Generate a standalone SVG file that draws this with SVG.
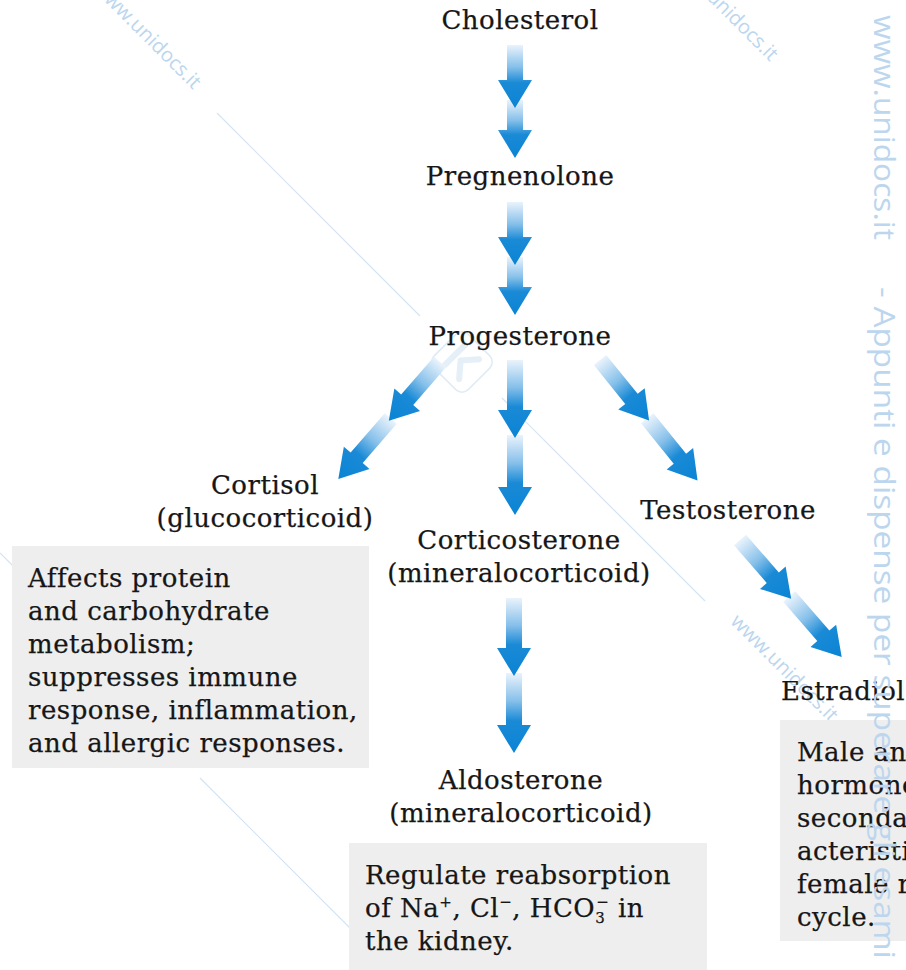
<svg xmlns="http://www.w3.org/2000/svg" width="906" height="970" viewBox="0 0 906 970">
<defs>
<linearGradient id="ag" x1="0" y1="0" x2="0" y2="1">
<stop offset="0" stop-color="#eaf3fc"/>
<stop offset="0.35" stop-color="#86c0ea"/>
<stop offset="0.6" stop-color="#1a8ad6"/>
<stop offset="1" stop-color="#0a84d4"/>
</linearGradient>
<path id="s1" d="M-8,0 H8 V35 H17 L0,63 L-17,35 H-8 Z"/>
<path id="s2" d="M-8,55 H8 V85 H17 L0,113 L-17,85 H-8 Z"/>
<path id="l1" d="M-8,0 H8 V50 H17 L0,78 L-17,50 H-8 Z"/>
<path id="l2" d="M-8,75 H8 V127 H17 L0,155 L-17,127 H-8 Z"/>
</defs>
<style>
.lbl{font-family:"DejaVu Serif","Liberation Serif",serif;font-size:26px;letter-spacing:0.5px;fill:#161616;stroke:#161616;stroke-width:0.25;text-anchor:middle}
.txt{font-family:"DejaVu Serif","Liberation Serif",serif;font-size:26px;letter-spacing:0.5px;fill:#161616;stroke:#161616;stroke-width:0.25}
.box{fill:#eeeeee}
.arr use{fill:url(#ag)}
.wm{font-family:"Open Sans","DejaVu Sans",sans-serif;fill:#bcd6ee}
.wl{stroke:#d3e4f3;stroke-width:1.2;fill:none}
</style>
<rect width="906" height="970" fill="#ffffff"/>

<g id="watermark-back">
<line class="wl" x1="217" y1="113" x2="420" y2="316"/>
<line class="wl" x1="502" y1="398" x2="705" y2="601"/>
<line class="wl" x1="200" y1="778" x2="388" y2="966"/>
<line class="wl" x1="0" y1="553" x2="40" y2="593"/>
<g transform="translate(462,362) rotate(45)" opacity="0.6">
<rect x="-24" y="-24" width="48" height="48" rx="9" fill="none" stroke="#c9def2" stroke-width="1.5"/>
<path d="M-10,-14 V14 M-2,0 L10,-14 M-2,0 L10,14" stroke="#d3e5f5" stroke-width="6" fill="none" stroke-linecap="round"/>
</g>
<text class="wm" font-size="20" text-anchor="end" transform="translate(193,90) rotate(45)">www.unidocs.it</text>
<text class="wm" font-size="20" text-anchor="end" transform="translate(770,62) rotate(45)">www.unidocs.it</text>
<text class="wm" font-size="20" text-anchor="end" transform="translate(170,735) rotate(45)">www.unidocs.it</text>
<text class="wm" font-size="20" text-anchor="end" transform="translate(830,723) rotate(45)">www.unidocs.it</text>
</g>

<g id="connectors" class="arr">
<g transform="translate(515,45)"><use href="#s2"/><use href="#s1"/></g>
<g transform="translate(515,202)"><use href="#s2"/><use href="#s1"/></g>
<g transform="translate(515,360)"><use href="#l2"/><use href="#l1"/></g>
<g transform="translate(440,362) rotate(41)"><use href="#l2"/><use href="#l1"/></g>
<g transform="translate(600,360) rotate(-39)"><use href="#l2"/><use href="#l1"/></g>
<g transform="translate(740,540) rotate(-41)"><use href="#l2"/><use href="#l1"/></g>
<g transform="translate(514,598)"><use href="#l2"/><use href="#l1"/></g>
</g>

<g id="cholesterol"><text class="lbl" x="520" y="29">Cholesterol</text></g>
<g id="pregnenolone"><text class="lbl" x="520" y="185">Pregnenolone</text></g>
<g id="progesterone"><text class="lbl" x="520" y="345">Progesterone</text></g>
<g id="cortisol">
<text class="lbl" x="265" y="494">Cortisol</text>
<text class="lbl" x="265" y="527">(glucocorticoid)</text>
</g>
<g id="testosterone"><text class="lbl" x="728" y="519">Testosterone</text></g>
<g id="corticosterone">
<text class="lbl" x="519" y="549">Corticosterone</text>
<text class="lbl" x="519" y="582">(mineralocorticoid)</text>
</g>
<g id="estradiol"><text class="txt" x="781" y="700">Estradiol</text></g>
<g id="aldosterone">
<text class="lbl" x="521" y="789">Aldosterone</text>
<text class="lbl" x="521" y="822">(mineralocorticoid)</text>
</g>

<g id="cortisol-box">
<rect class="box" x="12" y="546" width="357" height="222"/>
<text class="txt" x="28" y="587">Affects protein</text>
<text class="txt" x="28" y="620">and carbohydrate</text>
<text class="txt" x="28" y="653">metabolism;</text>
<text class="txt" x="28" y="686">suppresses immune</text>
<text class="txt" x="28" y="719">response, inflammation,</text>
<text class="txt" x="28" y="752">and allergic responses.</text>
</g>

<g id="aldosterone-box">
<rect class="box" x="349" y="843" width="358" height="127"/>
<text class="txt" x="365" y="884">Regulate reabsorption</text>
<text class="txt" x="365" y="917">of Na<tspan font-size="15" dy="-10">+</tspan><tspan dy="10">, Cl</tspan><tspan font-size="15" dy="-10">−</tspan><tspan dy="10">, HCO</tspan><tspan font-size="15" dy="6">3</tspan><tspan font-size="15" dx="-9" dy="-16">−</tspan><tspan dy="10"> in</tspan></text>
<text class="txt" x="365" y="950">the kidney.</text>
</g>

<g id="estradiol-box">
<rect class="box" x="780" y="720" width="126" height="221"/>
<text class="txt" x="797" y="761">Male an</text>
<text class="txt" x="797" y="794">hormone</text>
<text class="txt" x="797" y="827">secondar</text>
<text class="txt" x="797" y="860">acteristi</text>
<text class="txt" x="797" y="893">female r</text>
<text class="txt" x="797" y="926">cycle.</text>
</g>

<g id="watermark-front">
<text class="wm" font-size="30" transform="translate(874,15) rotate(90)" textLength="225" lengthAdjust="spacingAndGlyphs">www.unidocs.it</text>
<text class="wm" font-size="30" transform="translate(874,287) rotate(90)" textLength="672" lengthAdjust="spacingAndGlyphs">- Appunti e dispense per superare gli esami</text>
</g>
</svg>
